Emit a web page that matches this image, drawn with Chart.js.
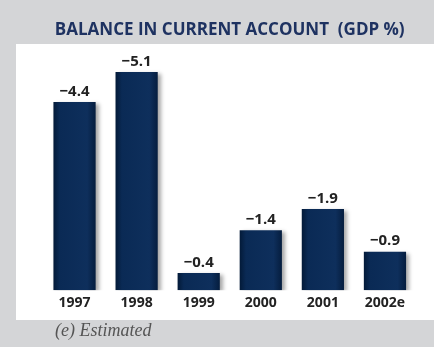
<!DOCTYPE html>
<html><head><meta charset="utf-8">
<script src="https://cdn.jsdelivr.net/npm/chart.js@4/dist/chart.umd.min.js"></script>
<style>
html,body{margin:0;padding:0;background:#d4d5d7;width:434px;height:347px;overflow:hidden;}
#panel{position:absolute;left:16px;top:44px;width:418px;height:276px;background:#fff;}
#wrap{position:absolute;left:0;top:0;width:434px;height:347px;}
#note{position:absolute;left:55px;top:320px;font:italic 18px "Liberation Serif","DejaVu Serif",serif;color:#555;}
</style></head>
<body>
<div id="panel"></div>
<div id="wrap"><canvas id="c"></canvas></div>
<div id="note">(e) Estimated</div>
<script>
const categories = ["1997","1998","1999","2000","2001","2002e"];
const balanceValues = [-4.4,-5.1,-0.4,-1.4,-1.9,-0.9];
const valueLabels = ["\u22124.4","\u22125.1","\u22120.4","\u22121.4","\u22121.9","\u22120.9"];

function barFill(context){
  const chart = context.chart;
  if (!chart.chartArea) return '#0c2b56';
  const xs = chart.scales.x;
  const cx = xs.getPixelForValue(context.dataIndex);
  const half = xs.width / categories.length * 0.68 / 2;
  const g = chart.ctx.createLinearGradient(cx - half, 0, cx + half, 0);
  g.addColorStop(0, '#031a38');
  g.addColorStop(0.15, '#0a2a55');
  g.addColorStop(0.8, '#0e2f5c');
  g.addColorStop(1, '#051d3e');
  return g;
}

const shadowPlugin = {
  id:'shadow',
  beforeDatasetsDraw(chart){const c=chart.ctx;c.save();c.shadowColor='rgba(0,0,0,0.35)';c.shadowOffsetX=3;c.shadowOffsetY=2;c.shadowBlur=4;},
  afterDatasetsDraw(chart){chart.ctx.restore();}
};
const labelPlugin = {
  id:'vlabels',
  afterDatasetsDraw(chart){
    const c=chart.ctx; const meta=chart.getDatasetMeta(0);
    c.save(); c.font='bold 15px "Open Sans","DejaVu Sans",sans-serif'; c.fillStyle='#222';
    c.textAlign='center'; c.textBaseline='bottom';
    meta.data.forEach((bar,i)=>{ c.fillText(valueLabels[i], bar.x, bar.y-3); });
    c.restore();
  }
};

new Chart(document.getElementById('c'),{
  type:'bar',
  data:{labels:categories,datasets:[{data:balanceValues,backgroundColor:barFill,borderWidth:0,barPercentage:0.68,categoryPercentage:1}]},
  options:{
    responsive:true,maintainAspectRatio:false,animation:false,
    layout:{padding:{left:43.5,right:18,top:0,bottom:32}},
    plugins:{
      legend:{display:false},tooltip:{enabled:false},
      title:{display:true,text:'BALANCE IN CURRENT ACCOUNT  (GDP %)',color:'#1e3261',
        font:{family:'"Open Sans","DejaVu Sans",sans-serif',size:17,weight:'bold'},padding:{top:20,bottom:14.6}}
    },
    scales:{
      y:{display:false,reverse:true,min:-5.5,max:0},
      x:{grid:{display:false,drawTicks:false},border:{display:false},
        ticks:{color:'#222',padding:4,font:{family:'"Open Sans","DejaVu Sans",sans-serif',size:14,weight:'bold'}}}
    }
  },
  plugins:[shadowPlugin,labelPlugin]
});
</script>
</body></html>
